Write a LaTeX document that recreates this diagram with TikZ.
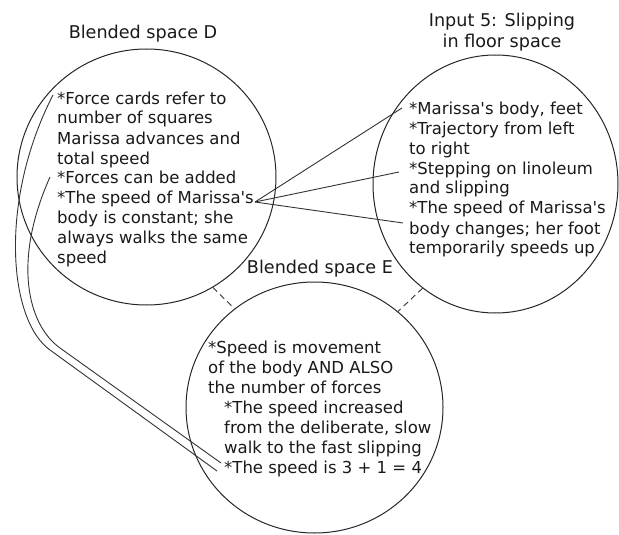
\documentclass[tikz,border=0pt]{standalone}
\usepackage{fontspec}
\setmainfont{DejaVu Sans}
\usetikzlibrary{shapes.geometric}
\tikzset{
  space/.style={ellipse, draw=black!85, line width=1pt, inner sep=0pt},
  txt/.style={inner sep=0pt, anchor=base west, text=black!90,
    font=\fontsize{16.5}{20}\selectfont},
  ttl/.style={inner sep=0pt, anchor=base, text=black!90,
    font=\fontsize{17.6}{21}\selectfont},
  link/.style={draw=black!80, line width=0.9pt},
  gap/.style={draw=black!80, line width=0.9pt, dash pattern=on 6pt off 4pt}
}
\newcommand{\ind}{\hspace*{16pt}}
\newcommand{\ap}{\textquotesingle}
\begin{document}
\begin{tikzpicture}[x=1pt,y=-1pt]
\useasboundingbox (0,0) rectangle (619,535);
% spaces
\node[space, minimum width=259pt, minimum height=256pt] (D) at (146.5,177) {};
\node[space, minimum width=245pt, minimum height=258pt] (I5) at (495.5,184) {};
\node[space, minimum width=257pt, minimum height=251pt] (E) at (314.5,407.5) {};
% titles
\node[ttl] (tD) at (143,39) {Blended space D};
\node[ttl] (t5) at (502,27) {\begin{tabular}[t]{@{}c@{}}Input 5: Slipping\\ in floor space\end{tabular}};
\node[ttl] (tE) at (320,273) {Blended space E};
% texts
\node[txt] (xD) at (57,104) {\begin{tabular}[t]{@{}l@{}}
{*}Force cards refer to\\
number of squares\\
Marissa advances and\\
total speed\\
{*}Forces can be added\\
{*}The speed of Marissa\ap s\\
body is constant; she\\
always walks the same\\
speed\end{tabular}};
\node[txt] (x5) at (409,114) {\begin{tabular}[t]{@{}l@{}}
{*}Marissa\ap s body, feet\\
{*}Trajectory from left\\
to right\\
{*}Stepping on linoleum\\
and slipping\\
{*}The speed of Marissa\ap s\\
body changes; her foot\\
temporarily speeds up\end{tabular}};
\node[txt] (xE) at (208,353) {\begin{tabular}[t]{@{}l@{}}
{*}Speed is movement\\
of the body AND ALSO\\
the number of forces\\
\ind{*}The speed increased\\
\ind from the deliberate, slow\\
\ind walk to the fast slipping\\
\ind{*}The speed is 3 + 1 = 4\end{tabular}};
% connector ends
\coordinate (s) at (255,202);
\coordinate (m1) at (402,108);
\coordinate (m2) at (399,172);
\coordinate (m3) at (403,223);
\coordinate (a1) at (53,95);
\coordinate (a2) at (50,177);
\coordinate (b1) at (217,471);
\coordinate (b2) at (221,463);
% straight links
\draw[link] (s) -- (m1);
\draw[link] (s) -- (m2);
\draw[link] (s) -- (m3);
% curved links
\draw[link] (a1) .. controls (-1,200) and (8,320) .. (50,350) -- (b1);
\draw[link] (a2) .. controls (12,262) and (28,325) .. (60,348) -- (b2);
% dashed gaps
\draw[gap] (D.-59) -- (E.129);
\draw[gap] (I5.-125) -- (E.49);
\end{tikzpicture}
\end{document}
